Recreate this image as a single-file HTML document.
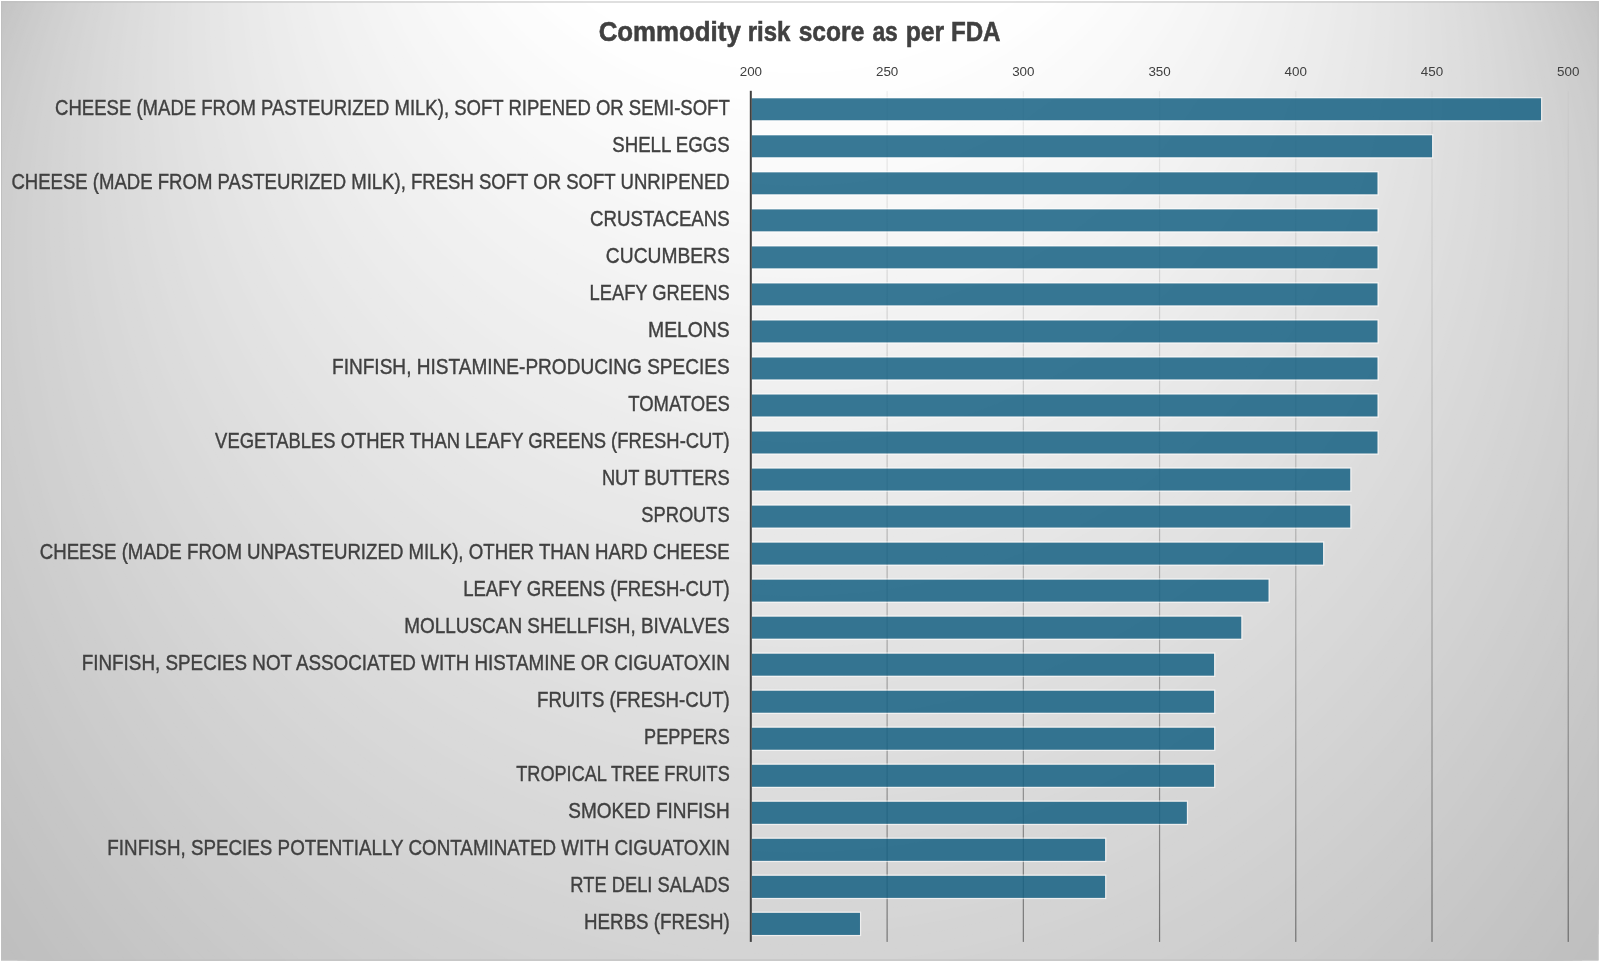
<!DOCTYPE html>
<html lang="en"><head><meta charset="utf-8"><title>Commodity risk score as per FDA</title>
<style>html,body{margin:0;padding:0;background:#fff;}body{width:1600px;height:963px;overflow:hidden;font-family:"Liberation Sans",sans-serif;}svg{position:absolute;left:0;top:0;display:block;}text{font-family:"Liberation Sans",sans-serif;}#tx{opacity:0.999;}</style></head><body>
<svg width="1600" height="963" viewBox="0 0 1600 963">
<defs><clipPath id="ca"><rect x="1.00" y="1.50" width="1597.50" height="959.00"/></clipPath>
<linearGradient id="gl" gradientUnits="userSpaceOnUse" x1="0" y1="91.10" x2="0" y2="941.90"><stop offset="0" stop-color="#bfbfbf" stop-opacity="0.26"/><stop offset="1" stop-color="#0d0d0d" stop-opacity="0.48"/></linearGradient></defs>
<g clip-path="url(#ca)" shape-rendering="geometricPrecision">
<rect x="0" y="0" width="1600" height="963" fill="#bfbfbf"/>
<circle cx="799.75" cy="453.00" r="932.62" fill="rgb(191,191,191)"/>
<circle cx="799.75" cy="447.19" r="928.18" fill="rgb(192,192,192)"/>
<circle cx="799.75" cy="441.38" r="923.73" fill="rgb(192,192,192)"/>
<circle cx="799.75" cy="435.58" r="919.29" fill="rgb(192,192,192)"/>
<circle cx="799.75" cy="429.77" r="914.85" fill="rgb(193,193,193)"/>
<circle cx="799.75" cy="423.96" r="910.40" fill="rgb(194,194,194)"/>
<circle cx="799.75" cy="418.15" r="905.96" fill="rgb(194,194,194)"/>
<circle cx="799.75" cy="412.34" r="901.51" fill="rgb(194,194,194)"/>
<circle cx="799.75" cy="406.54" r="897.07" fill="rgb(195,195,195)"/>
<circle cx="799.75" cy="400.73" r="892.62" fill="rgb(196,196,196)"/>
<circle cx="799.75" cy="394.92" r="888.18" fill="rgb(196,196,196)"/>
<circle cx="799.75" cy="389.11" r="883.73" fill="rgb(196,196,196)"/>
<circle cx="799.75" cy="383.31" r="879.29" fill="rgb(197,197,197)"/>
<circle cx="799.75" cy="377.50" r="874.84" fill="rgb(198,198,198)"/>
<circle cx="799.75" cy="371.69" r="870.40" fill="rgb(198,198,198)"/>
<circle cx="799.75" cy="365.88" r="865.96" fill="rgb(198,198,198)"/>
<circle cx="799.75" cy="360.07" r="861.51" fill="rgb(199,199,199)"/>
<circle cx="799.75" cy="354.27" r="857.07" fill="rgb(200,200,200)"/>
<circle cx="799.75" cy="348.46" r="852.62" fill="rgb(200,200,200)"/>
<circle cx="799.75" cy="342.65" r="848.18" fill="rgb(200,200,200)"/>
<circle cx="799.75" cy="336.84" r="843.73" fill="rgb(201,201,201)"/>
<circle cx="799.75" cy="331.03" r="839.29" fill="rgb(202,202,202)"/>
<circle cx="799.75" cy="325.23" r="834.84" fill="rgb(202,202,202)"/>
<circle cx="799.75" cy="319.42" r="830.40" fill="rgb(202,202,202)"/>
<circle cx="799.75" cy="313.61" r="825.95" fill="rgb(203,203,203)"/>
<circle cx="799.75" cy="307.80" r="821.51" fill="rgb(204,204,204)"/>
<circle cx="799.75" cy="302.00" r="817.07" fill="rgb(204,204,204)"/>
<circle cx="799.75" cy="296.19" r="812.62" fill="rgb(204,204,204)"/>
<circle cx="799.75" cy="290.38" r="808.18" fill="rgb(205,205,205)"/>
<circle cx="799.75" cy="284.57" r="803.73" fill="rgb(206,206,206)"/>
<circle cx="799.75" cy="278.76" r="799.29" fill="rgb(206,206,206)"/>
<circle cx="799.75" cy="272.96" r="794.84" fill="rgb(206,206,206)"/>
<circle cx="799.75" cy="267.15" r="790.40" fill="rgb(207,207,207)"/>
<circle cx="799.75" cy="261.34" r="785.95" fill="rgb(208,208,208)"/>
<circle cx="799.75" cy="255.53" r="781.51" fill="rgb(208,208,208)"/>
<circle cx="799.75" cy="249.72" r="777.06" fill="rgb(208,208,208)"/>
<circle cx="799.75" cy="243.92" r="772.62" fill="rgb(209,209,209)"/>
<circle cx="799.75" cy="238.11" r="768.18" fill="rgb(210,210,210)"/>
<circle cx="799.75" cy="232.30" r="763.73" fill="rgb(210,210,210)"/>
<circle cx="799.75" cy="226.49" r="759.29" fill="rgb(210,210,210)"/>
<circle cx="799.75" cy="220.69" r="754.84" fill="rgb(211,211,211)"/>
<circle cx="799.75" cy="214.88" r="750.40" fill="rgb(212,212,212)"/>
<circle cx="799.75" cy="209.07" r="745.95" fill="rgb(212,212,212)"/>
<circle cx="799.75" cy="203.26" r="741.51" fill="rgb(212,212,212)"/>
<circle cx="799.75" cy="197.45" r="737.06" fill="rgb(213,213,213)"/>
<circle cx="799.75" cy="191.65" r="732.62" fill="rgb(214,214,214)"/>
<circle cx="799.75" cy="185.84" r="728.17" fill="rgb(214,214,214)"/>
<circle cx="799.75" cy="180.03" r="723.73" fill="rgb(214,214,214)"/>
<circle cx="799.75" cy="174.22" r="719.29" fill="rgb(215,215,215)"/>
<circle cx="799.75" cy="168.41" r="714.84" fill="rgb(216,216,216)"/>
<circle cx="799.75" cy="162.61" r="710.40" fill="rgb(216,216,216)"/>
<circle cx="799.75" cy="156.80" r="705.95" fill="rgb(216,216,216)"/>
<circle cx="799.75" cy="150.99" r="701.51" fill="rgb(217,217,217)"/>
<circle cx="799.75" cy="145.18" r="697.06" fill="rgb(218,218,218)"/>
<circle cx="799.75" cy="139.38" r="692.62" fill="rgb(218,218,218)"/>
<circle cx="799.75" cy="133.57" r="688.17" fill="rgb(218,218,218)"/>
<circle cx="799.75" cy="127.76" r="683.73" fill="rgb(219,219,219)"/>
<circle cx="799.75" cy="121.95" r="679.28" fill="rgb(220,220,220)"/>
<circle cx="799.75" cy="116.14" r="674.84" fill="rgb(220,220,220)"/>
<circle cx="799.75" cy="110.34" r="670.40" fill="rgb(220,220,220)"/>
<circle cx="799.75" cy="104.53" r="665.95" fill="rgb(221,221,221)"/>
<circle cx="799.75" cy="98.72" r="661.51" fill="rgb(222,222,222)"/>
<circle cx="799.75" cy="92.91" r="657.06" fill="rgb(222,222,222)"/>
<circle cx="799.75" cy="87.10" r="652.62" fill="rgb(222,222,222)"/>
<circle cx="799.75" cy="81.30" r="648.17" fill="rgb(223,223,223)"/>
<circle cx="799.75" cy="75.49" r="643.73" fill="rgb(224,224,224)"/>
<circle cx="799.75" cy="69.68" r="639.28" fill="rgb(224,224,224)"/>
<circle cx="799.75" cy="63.87" r="634.84" fill="rgb(224,224,224)"/>
<circle cx="799.75" cy="58.07" r="630.40" fill="rgb(225,225,225)"/>
<circle cx="799.75" cy="52.26" r="625.95" fill="rgb(226,226,226)"/>
<circle cx="799.75" cy="46.45" r="621.51" fill="rgb(226,226,226)"/>
<circle cx="799.75" cy="40.64" r="617.06" fill="rgb(226,226,226)"/>
<circle cx="799.75" cy="34.83" r="612.62" fill="rgb(227,227,227)"/>
<circle cx="799.75" cy="29.03" r="608.17" fill="rgb(228,228,228)"/>
<circle cx="799.75" cy="23.22" r="603.73" fill="rgb(228,228,228)"/>
<circle cx="799.75" cy="17.41" r="599.28" fill="rgb(228,228,228)"/>
<circle cx="799.75" cy="11.60" r="594.84" fill="rgb(229,229,229)"/>
<circle cx="799.75" cy="5.79" r="590.39" fill="rgb(230,230,230)"/>
<circle cx="799.75" cy="-0.01" r="585.95" fill="rgb(230,230,230)"/>
<circle cx="799.75" cy="-5.82" r="581.51" fill="rgb(230,230,230)"/>
<circle cx="799.75" cy="-11.63" r="577.06" fill="rgb(231,231,231)"/>
<circle cx="799.75" cy="-17.44" r="572.62" fill="rgb(232,232,232)"/>
<circle cx="799.75" cy="-23.25" r="568.17" fill="rgb(232,232,232)"/>
<circle cx="799.75" cy="-29.05" r="563.73" fill="rgb(232,232,232)"/>
<circle cx="799.75" cy="-34.86" r="559.28" fill="rgb(233,233,233)"/>
<circle cx="799.75" cy="-40.67" r="554.84" fill="rgb(234,234,234)"/>
<circle cx="799.75" cy="-46.48" r="550.39" fill="rgb(234,234,234)"/>
<circle cx="799.75" cy="-52.28" r="545.95" fill="rgb(234,234,234)"/>
<circle cx="799.75" cy="-58.09" r="541.50" fill="rgb(235,235,235)"/>
<circle cx="799.75" cy="-63.90" r="537.06" fill="rgb(236,236,236)"/>
<circle cx="799.75" cy="-69.71" r="532.62" fill="rgb(236,236,236)"/>
<circle cx="799.75" cy="-75.52" r="528.17" fill="rgb(236,236,236)"/>
<circle cx="799.75" cy="-81.32" r="523.73" fill="rgb(237,237,237)"/>
<circle cx="799.75" cy="-87.13" r="519.28" fill="rgb(238,238,238)"/>
<circle cx="799.75" cy="-92.94" r="514.84" fill="rgb(238,238,238)"/>
<circle cx="799.75" cy="-98.75" r="510.39" fill="rgb(238,238,238)"/>
<circle cx="799.75" cy="-104.56" r="505.95" fill="rgb(239,239,239)"/>
<circle cx="799.75" cy="-110.36" r="501.50" fill="rgb(240,240,240)"/>
<circle cx="799.75" cy="-116.17" r="497.06" fill="rgb(240,240,240)"/>
<circle cx="799.75" cy="-121.98" r="492.61" fill="rgb(240,240,240)"/>
<circle cx="799.75" cy="-127.79" r="488.17" fill="rgb(241,241,241)"/>
<circle cx="799.75" cy="-133.59" r="483.73" fill="rgb(242,242,242)"/>
<circle cx="799.75" cy="-139.40" r="479.28" fill="rgb(242,242,242)"/>
<circle cx="799.75" cy="-145.21" r="474.84" fill="rgb(242,242,242)"/>
<circle cx="799.75" cy="-151.02" r="470.39" fill="rgb(243,243,243)"/>
<circle cx="799.75" cy="-156.83" r="465.95" fill="rgb(244,244,244)"/>
<circle cx="799.75" cy="-162.63" r="461.50" fill="rgb(244,244,244)"/>
<circle cx="799.75" cy="-168.44" r="457.06" fill="rgb(244,244,244)"/>
<circle cx="799.75" cy="-174.25" r="452.61" fill="rgb(245,245,245)"/>
<circle cx="799.75" cy="-180.06" r="448.17" fill="rgb(246,246,246)"/>
<circle cx="799.75" cy="-185.87" r="443.72" fill="rgb(246,246,246)"/>
<circle cx="799.75" cy="-191.67" r="439.28" fill="rgb(246,246,246)"/>
<circle cx="799.75" cy="-197.48" r="434.84" fill="rgb(247,247,247)"/>
<circle cx="799.75" cy="-203.29" r="430.39" fill="rgb(248,248,248)"/>
<circle cx="799.75" cy="-209.10" r="425.95" fill="rgb(248,248,248)"/>
<circle cx="799.75" cy="-214.90" r="421.50" fill="rgb(248,248,248)"/>
<circle cx="799.75" cy="-220.71" r="417.06" fill="rgb(249,249,249)"/>
<circle cx="799.75" cy="-226.52" r="412.61" fill="rgb(250,250,250)"/>
<circle cx="799.75" cy="-232.33" r="408.17" fill="rgb(250,250,250)"/>
<circle cx="799.75" cy="-238.14" r="403.72" fill="rgb(250,250,250)"/>
<circle cx="799.75" cy="-243.94" r="399.28" fill="rgb(251,251,251)"/>
<circle cx="799.75" cy="-249.75" r="394.83" fill="rgb(252,252,252)"/>
<circle cx="799.75" cy="-255.56" r="390.39" fill="rgb(252,252,252)"/>
<circle cx="799.75" cy="-261.37" r="385.95" fill="rgb(252,252,252)"/>
<circle cx="799.75" cy="-267.18" r="381.50" fill="rgb(253,253,253)"/>
<circle cx="799.75" cy="-272.98" r="377.06" fill="rgb(254,254,254)"/>
<circle cx="799.75" cy="-278.79" r="372.61" fill="rgb(254,254,254)"/>
<circle cx="799.75" cy="-284.60" r="368.17" fill="rgb(254,254,254)"/>
<circle cx="799.75" cy="-290.41" r="363.72" fill="rgb(255,255,255)"/>
</g>
<rect x="1.50" y="2.00" width="1596.50" height="958.00" fill="none" stroke="#c0c0c0" stroke-width="1"/>
<g id="tx">
<g transform="translate(598.65,41.1) scale(0.9507,1)"><text x="0" y="0" font-size="27.2" font-weight="bold" fill="#404040" stroke="#404040" stroke-width="0.55">Commodity</text></g>
<g transform="translate(747.72,41.1) scale(0.8829,1)"><text x="0" y="0" font-size="27.2" font-weight="bold" fill="#404040" stroke="#404040" stroke-width="0.55">risk</text></g>
<g transform="translate(798.70,41.1) scale(0.9043,1)"><text x="0" y="0" font-size="27.2" font-weight="bold" fill="#404040" stroke="#404040" stroke-width="0.55">score</text></g>
<g transform="translate(872.40,41.1) scale(0.8413,1)"><text x="0" y="0" font-size="27.2" font-weight="bold" fill="#404040" stroke="#404040" stroke-width="0.55">as</text></g>
<g transform="translate(905.69,41.1) scale(0.9106,1)"><text x="0" y="0" font-size="27.2" font-weight="bold" fill="#404040" stroke="#404040" stroke-width="0.55">per</text></g>
<g transform="translate(950.91,41.1) scale(0.8886,1)"><text x="0" y="0" font-size="27.2" font-weight="bold" fill="#404040" stroke="#404040" stroke-width="0.55">FDA</text></g>
<text x="750.90" y="75.9" text-anchor="middle" font-size="13.4" fill="#404040">200</text>
<text x="887.12" y="75.9" text-anchor="middle" font-size="13.4" fill="#404040">250</text>
<text x="1023.34" y="75.9" text-anchor="middle" font-size="13.4" fill="#404040">300</text>
<text x="1159.56" y="75.9" text-anchor="middle" font-size="13.4" fill="#404040">350</text>
<text x="1295.78" y="75.9" text-anchor="middle" font-size="13.4" fill="#404040">400</text>
<text x="1432.00" y="75.9" text-anchor="middle" font-size="13.4" fill="#404040">450</text>
<text x="1568.22" y="75.9" text-anchor="middle" font-size="13.4" fill="#404040">500</text>
</g>
<rect x="886.52" y="91.10" width="1.2" height="850.80" fill="url(#gl)"/>
<rect x="1022.74" y="91.10" width="1.2" height="850.80" fill="url(#gl)"/>
<rect x="1158.96" y="91.10" width="1.2" height="850.80" fill="url(#gl)"/>
<rect x="1295.18" y="91.10" width="1.2" height="850.80" fill="url(#gl)"/>
<rect x="1431.40" y="91.10" width="1.2" height="850.80" fill="url(#gl)"/>
<rect x="1567.62" y="91.10" width="1.2" height="850.80" fill="url(#gl)"/>
<rect x="751.70" y="98.20" width="789.38" height="22.20" fill="#156082" fill-opacity="0.85"/>
<rect x="751.10" y="97.60" width="790.58" height="23.40" fill="none" stroke="#ffffff" stroke-opacity="0.6" stroke-width="1.2"/>
<rect x="751.70" y="135.22" width="680.40" height="22.20" fill="#156082" fill-opacity="0.85"/>
<rect x="751.10" y="134.62" width="681.60" height="23.40" fill="none" stroke="#ffffff" stroke-opacity="0.6" stroke-width="1.2"/>
<rect x="751.70" y="172.25" width="625.91" height="22.20" fill="#156082" fill-opacity="0.85"/>
<rect x="751.10" y="171.65" width="627.11" height="23.40" fill="none" stroke="#ffffff" stroke-opacity="0.6" stroke-width="1.2"/>
<rect x="751.70" y="209.28" width="625.91" height="22.20" fill="#156082" fill-opacity="0.85"/>
<rect x="751.10" y="208.68" width="627.11" height="23.40" fill="none" stroke="#ffffff" stroke-opacity="0.6" stroke-width="1.2"/>
<rect x="751.70" y="246.30" width="625.91" height="22.20" fill="#156082" fill-opacity="0.85"/>
<rect x="751.10" y="245.70" width="627.11" height="23.40" fill="none" stroke="#ffffff" stroke-opacity="0.6" stroke-width="1.2"/>
<rect x="751.70" y="283.32" width="625.91" height="22.20" fill="#156082" fill-opacity="0.85"/>
<rect x="751.10" y="282.72" width="627.11" height="23.40" fill="none" stroke="#ffffff" stroke-opacity="0.6" stroke-width="1.2"/>
<rect x="751.70" y="320.35" width="625.91" height="22.20" fill="#156082" fill-opacity="0.85"/>
<rect x="751.10" y="319.75" width="627.11" height="23.40" fill="none" stroke="#ffffff" stroke-opacity="0.6" stroke-width="1.2"/>
<rect x="751.70" y="357.38" width="625.91" height="22.20" fill="#156082" fill-opacity="0.85"/>
<rect x="751.10" y="356.77" width="627.11" height="23.40" fill="none" stroke="#ffffff" stroke-opacity="0.6" stroke-width="1.2"/>
<rect x="751.70" y="394.40" width="625.91" height="22.20" fill="#156082" fill-opacity="0.85"/>
<rect x="751.10" y="393.80" width="627.11" height="23.40" fill="none" stroke="#ffffff" stroke-opacity="0.6" stroke-width="1.2"/>
<rect x="751.70" y="431.42" width="625.91" height="22.20" fill="#156082" fill-opacity="0.85"/>
<rect x="751.10" y="430.82" width="627.11" height="23.40" fill="none" stroke="#ffffff" stroke-opacity="0.6" stroke-width="1.2"/>
<rect x="751.70" y="468.45" width="598.67" height="22.20" fill="#156082" fill-opacity="0.85"/>
<rect x="751.10" y="467.85" width="599.87" height="23.40" fill="none" stroke="#ffffff" stroke-opacity="0.6" stroke-width="1.2"/>
<rect x="751.70" y="505.47" width="598.67" height="22.20" fill="#156082" fill-opacity="0.85"/>
<rect x="751.10" y="504.87" width="599.87" height="23.40" fill="none" stroke="#ffffff" stroke-opacity="0.6" stroke-width="1.2"/>
<rect x="751.70" y="542.50" width="571.42" height="22.20" fill="#156082" fill-opacity="0.85"/>
<rect x="751.10" y="541.90" width="572.62" height="23.40" fill="none" stroke="#ffffff" stroke-opacity="0.6" stroke-width="1.2"/>
<rect x="751.70" y="579.52" width="516.94" height="22.20" fill="#156082" fill-opacity="0.85"/>
<rect x="751.10" y="578.92" width="518.14" height="23.40" fill="none" stroke="#ffffff" stroke-opacity="0.6" stroke-width="1.2"/>
<rect x="751.70" y="616.55" width="489.69" height="22.20" fill="#156082" fill-opacity="0.85"/>
<rect x="751.10" y="615.95" width="490.89" height="23.40" fill="none" stroke="#ffffff" stroke-opacity="0.6" stroke-width="1.2"/>
<rect x="751.70" y="653.57" width="462.45" height="22.20" fill="#156082" fill-opacity="0.85"/>
<rect x="751.10" y="652.97" width="463.65" height="23.40" fill="none" stroke="#ffffff" stroke-opacity="0.6" stroke-width="1.2"/>
<rect x="751.70" y="690.60" width="462.45" height="22.20" fill="#156082" fill-opacity="0.85"/>
<rect x="751.10" y="690.00" width="463.65" height="23.40" fill="none" stroke="#ffffff" stroke-opacity="0.6" stroke-width="1.2"/>
<rect x="751.70" y="727.62" width="462.45" height="22.20" fill="#156082" fill-opacity="0.85"/>
<rect x="751.10" y="727.02" width="463.65" height="23.40" fill="none" stroke="#ffffff" stroke-opacity="0.6" stroke-width="1.2"/>
<rect x="751.70" y="764.65" width="462.45" height="22.20" fill="#156082" fill-opacity="0.85"/>
<rect x="751.10" y="764.05" width="463.65" height="23.40" fill="none" stroke="#ffffff" stroke-opacity="0.6" stroke-width="1.2"/>
<rect x="751.70" y="801.67" width="435.20" height="22.20" fill="#156082" fill-opacity="0.85"/>
<rect x="751.10" y="801.07" width="436.40" height="23.40" fill="none" stroke="#ffffff" stroke-opacity="0.6" stroke-width="1.2"/>
<rect x="751.70" y="838.70" width="353.47" height="22.20" fill="#156082" fill-opacity="0.85"/>
<rect x="751.10" y="838.10" width="354.67" height="23.40" fill="none" stroke="#ffffff" stroke-opacity="0.6" stroke-width="1.2"/>
<rect x="751.70" y="875.72" width="353.47" height="22.20" fill="#156082" fill-opacity="0.85"/>
<rect x="751.10" y="875.12" width="354.67" height="23.40" fill="none" stroke="#ffffff" stroke-opacity="0.6" stroke-width="1.2"/>
<rect x="751.70" y="912.75" width="108.28" height="22.20" fill="#156082" fill-opacity="0.85"/>
<rect x="751.10" y="912.15" width="109.48" height="23.40" fill="none" stroke="#ffffff" stroke-opacity="0.6" stroke-width="1.2"/>
<rect x="749.80" y="90.80" width="2" height="851.10" fill="#404040"/>
<g opacity="0.999">
<g transform="translate(729.75,114.70) scale(0.8508,1)"><text x="0" y="0" text-anchor="end" font-size="21.8" fill="#404040" stroke="#404040" stroke-width="0.4">CHEESE (MADE FROM PASTEURIZED MILK), SOFT RIPENED OR SEMI-SOFT</text></g>
<g transform="translate(729.75,151.72) scale(0.8559,1)"><text x="0" y="0" text-anchor="end" font-size="21.8" fill="#404040" stroke="#404040" stroke-width="0.4">SHELL EGGS</text></g>
<g transform="translate(729.75,188.75) scale(0.8512,1)"><text x="0" y="0" text-anchor="end" font-size="21.8" fill="#404040" stroke="#404040" stroke-width="0.4">CHEESE (MADE FROM PASTEURIZED MILK), FRESH SOFT OR SOFT UNRIPENED</text></g>
<g transform="translate(729.75,225.77) scale(0.8575,1)"><text x="0" y="0" text-anchor="end" font-size="21.8" fill="#404040" stroke="#404040" stroke-width="0.4">CRUSTACEANS</text></g>
<g transform="translate(729.75,262.80) scale(0.8820,1)"><text x="0" y="0" text-anchor="end" font-size="21.8" fill="#404040" stroke="#404040" stroke-width="0.4">CUCUMBERS</text></g>
<g transform="translate(729.75,299.82) scale(0.8415,1)"><text x="0" y="0" text-anchor="end" font-size="21.8" fill="#404040" stroke="#404040" stroke-width="0.4">LEAFY GREENS</text></g>
<g transform="translate(729.75,336.85) scale(0.8880,1)"><text x="0" y="0" text-anchor="end" font-size="21.8" fill="#404040" stroke="#404040" stroke-width="0.4">MELONS</text></g>
<g transform="translate(729.75,373.88) scale(0.8744,1)"><text x="0" y="0" text-anchor="end" font-size="21.8" fill="#404040" stroke="#404040" stroke-width="0.4">FINFISH, HISTAMINE-PRODUCING SPECIES</text></g>
<g transform="translate(729.75,410.90) scale(0.8466,1)"><text x="0" y="0" text-anchor="end" font-size="21.8" fill="#404040" stroke="#404040" stroke-width="0.4">TOMATOES</text></g>
<g transform="translate(729.75,447.92) scale(0.8451,1)"><text x="0" y="0" text-anchor="end" font-size="21.8" fill="#404040" stroke="#404040" stroke-width="0.4">VEGETABLES OTHER THAN LEAFY GREENS (FRESH-CUT)</text></g>
<g transform="translate(729.75,484.95) scale(0.8406,1)"><text x="0" y="0" text-anchor="end" font-size="21.8" fill="#404040" stroke="#404040" stroke-width="0.4">NUT BUTTERS</text></g>
<g transform="translate(729.75,521.98) scale(0.8403,1)"><text x="0" y="0" text-anchor="end" font-size="21.8" fill="#404040" stroke="#404040" stroke-width="0.4">SPROUTS</text></g>
<g transform="translate(729.75,559.00) scale(0.8572,1)"><text x="0" y="0" text-anchor="end" font-size="21.8" fill="#404040" stroke="#404040" stroke-width="0.4">CHEESE (MADE FROM UNPASTEURIZED MILK), OTHER THAN HARD CHEESE</text></g>
<g transform="translate(729.75,596.02) scale(0.8513,1)"><text x="0" y="0" text-anchor="end" font-size="21.8" fill="#404040" stroke="#404040" stroke-width="0.4">LEAFY GREENS (FRESH-CUT)</text></g>
<g transform="translate(729.75,633.05) scale(0.8694,1)"><text x="0" y="0" text-anchor="end" font-size="21.8" fill="#404040" stroke="#404040" stroke-width="0.4">MOLLUSCAN SHELLFISH, BIVALVES</text></g>
<g transform="translate(729.75,670.08) scale(0.8645,1)"><text x="0" y="0" text-anchor="end" font-size="21.8" fill="#404040" stroke="#404040" stroke-width="0.4">FINFISH, SPECIES NOT ASSOCIATED WITH HISTAMINE OR CIGUATOXIN</text></g>
<g transform="translate(729.75,707.10) scale(0.8563,1)"><text x="0" y="0" text-anchor="end" font-size="21.8" fill="#404040" stroke="#404040" stroke-width="0.4">FRUITS (FRESH-CUT)</text></g>
<g transform="translate(729.75,744.12) scale(0.8320,1)"><text x="0" y="0" text-anchor="end" font-size="21.8" fill="#404040" stroke="#404040" stroke-width="0.4">PEPPERS</text></g>
<g transform="translate(729.75,781.15) scale(0.8312,1)"><text x="0" y="0" text-anchor="end" font-size="21.8" fill="#404040" stroke="#404040" stroke-width="0.4">TROPICAL TREE FRUITS</text></g>
<g transform="translate(729.75,818.18) scale(0.8720,1)"><text x="0" y="0" text-anchor="end" font-size="21.8" fill="#404040" stroke="#404040" stroke-width="0.4">SMOKED FINFISH</text></g>
<g transform="translate(729.75,855.20) scale(0.8628,1)"><text x="0" y="0" text-anchor="end" font-size="21.8" fill="#404040" stroke="#404040" stroke-width="0.4">FINFISH, SPECIES POTENTIALLY CONTAMINATED WITH CIGUATOXIN</text></g>
<g transform="translate(729.75,892.23) scale(0.8404,1)"><text x="0" y="0" text-anchor="end" font-size="21.8" fill="#404040" stroke="#404040" stroke-width="0.4">RTE DELI SALADS</text></g>
<g transform="translate(729.75,929.25) scale(0.8596,1)"><text x="0" y="0" text-anchor="end" font-size="21.8" fill="#404040" stroke="#404040" stroke-width="0.4">HERBS (FRESH)</text></g>
</g>
</svg></body></html>
